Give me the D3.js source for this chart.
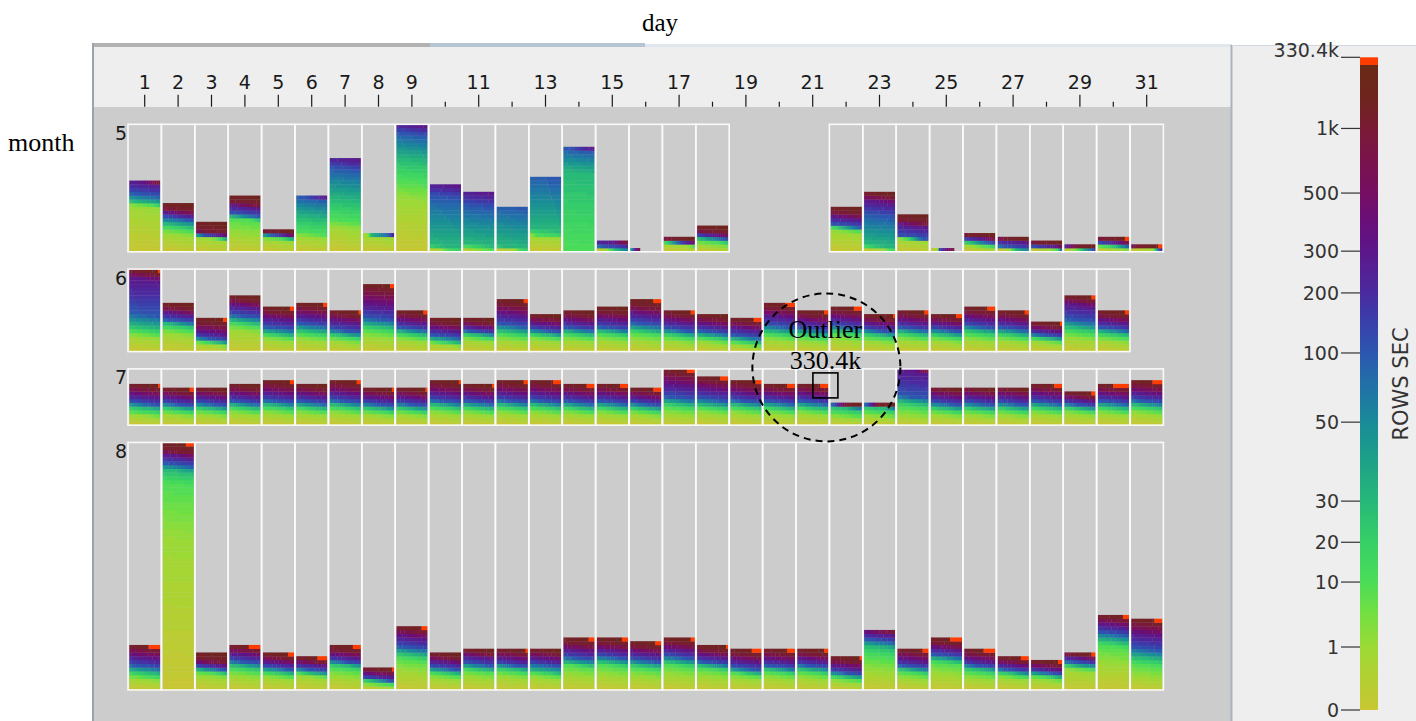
<!DOCTYPE html>
<html>
<head>
<meta charset="utf-8">
<script src="https://cdn.jsdelivr.net/npm/d3@7"></script>
<style>
  body { margin: 0; background: #fff; }
  svg { display: block; }
</style>
</head>
<body>
<div id="chart"></div>
<script>
// ---- data ----
const months = [5, 6, 7, 8];
const days = [1,2,3,4,5,6,7,8,9,10,11,12,13,14,15,16,17,18,19,20,21,22,23,24,25,26,27,28,29,30,31];
const labelledDays = [1,2,3,4,5,6,7,8,9,11,13,15,17,19,21,23,25,27,29,31];

// records per day (in rows of pixels), null = no data
const mayCount = [19,13,8,15,6,15,25,5,34,18,16,12,20,28,3,0.3,4,7,null,null,null,12,16,10,0.75,5,4,3,2,4,2];
const junCount = [22,13,9,15,12,13,11,18,11,9,9,14,10,11,12,14,11,10,9,13,11,12,10,11,10,12,11,8,15,11,null];
const julCount = [11,10,10,11,12,11,12,10,10,12,11,12,12,11,11,10,15,13,12,11,11,6,6,15,10,10,10,11,9,11,12];
const augCount = [12,66,10,12,10,9,12,6,17,10,11,11,11,14,14,13,14,12,11,11,11,9,16,11,14,11,9,8,10,20,19];

// share of a day's records with ROWS SEC at or below each limit
const cdfLimits = [1, 10, 30, 100, 300, 1000];
const peakRate = 150000;
const mayCdf = [
  [0.62,0.67,0.69,0.8,0.97,1],[0.34,0.45,0.55,0.68,0.78,0.86],[0.43,0.47,0.49,0.53,0.6,0.66],
  [0.3,0.58,0.6,0.66,0.8,0.86],[0.48,0.6,0.65,0.72,0.8,0.85],[0.25,0.33,0.6,0.95,1,1],
  [0.25,0.33,0.55,0.88,1,1],[0.83,0.84,0.85,0.97,1,1],[0.4,0.55,0.72,0.92,1,1],
  [0.02,0.03,0.08,0.8,1,1],[0.02,0.06,0.12,0.75,1,1],[0.05,0.06,0.1,1,1,1],
  [0.2,0.21,0.3,1,1,1],[0,0,0.75,0.97,1,1],[0.1,0.15,0.2,0.4,0.85,1],
  [0,0,0,0.3,0.6,1],[0.45,0.5,0.55,0.62,0.72,0.78],[0.2,0.38,0.45,0.55,0.65,0.75],
  null,null,null,
  [0.42,0.5,0.53,0.58,0.75,0.86],[0.04,0.05,0.1,0.6,0.83,0.93],[0.3,0.33,0.35,0.38,0.7,0.8],
  [0.3,0.32,0.33,0.35,0.6,1],[0.25,0.35,0.45,0.55,0.72,0.8],[0.1,0.12,0.15,0.3,0.72,0.8],
  [0.2,0.28,0.3,0.33,0.6,0.7],[0.15,0.22,0.3,0.45,0.55,0.7],[0.2,0.3,0.4,0.5,0.65,0.78],
  [0.35,0.38,0.4,0.45,0.5,0.55]
];
const junCdf = [
  [0.17,0.23,0.3,0.45,0.88,0.95],[0.34,0.45,0.55,0.63,0.78,0.88],[0.2,0.25,0.3,0.38,0.55,0.8],
  [0.36,0.46,0.53,0.63,0.8,0.9],[0.24,0.33,0.4,0.52,0.72,0.86],[0.23,0.33,0.42,0.55,0.72,0.88],
  [0.22,0.32,0.4,0.5,0.72,0.87],[0.2,0.3,0.38,0.48,0.68,0.9],[0.26,0.36,0.45,0.55,0.72,0.87],
  [0.2,0.25,0.32,0.45,0.65,0.83],[0.32,0.4,0.5,0.58,0.72,0.85],[0.2,0.3,0.38,0.5,0.7,0.88],
  [0.28,0.38,0.46,0.56,0.72,0.88],[0.25,0.36,0.45,0.55,0.72,0.87],[0.23,0.35,0.43,0.52,0.7,0.85],
  [0.2,0.33,0.4,0.52,0.7,0.85],[0.22,0.33,0.42,0.52,0.72,0.87],[0.22,0.32,0.4,0.52,0.7,0.87],
  [0.15,0.25,0.33,0.45,0.68,0.85],[0.22,0.32,0.4,0.52,0.72,0.87],[0.22,0.33,0.42,0.54,0.72,0.87],
  [0.25,0.36,0.45,0.55,0.72,0.87],[0.24,0.35,0.45,0.55,0.72,0.86],[0.25,0.36,0.45,0.55,0.72,0.88],
  [0.25,0.36,0.45,0.57,0.72,0.87],[0.24,0.35,0.45,0.55,0.72,0.87],[0.24,0.34,0.43,0.55,0.72,0.87],
  [0.28,0.38,0.45,0.55,0.7,0.86],[0.22,0.32,0.42,0.55,0.82,0.92],[0.24,0.35,0.45,0.55,0.72,0.86],
  null
];
const julCdf = [
  [0.22,0.3,0.42,0.52,0.7,0.88],[0.25,0.35,0.45,0.55,0.72,0.88],[0.25,0.36,0.45,0.56,0.74,0.9],
  [0.26,0.36,0.45,0.55,0.72,0.88],[0.24,0.34,0.43,0.53,0.7,0.87],[0.25,0.36,0.44,0.55,0.72,0.88],
  [0.24,0.34,0.43,0.53,0.7,0.87],[0.25,0.35,0.44,0.55,0.72,0.88],[0.25,0.35,0.44,0.55,0.72,0.88],
  [0.24,0.34,0.43,0.53,0.7,0.87],[0.25,0.35,0.44,0.55,0.72,0.88],[0.24,0.34,0.43,0.53,0.7,0.87],
  [0.24,0.34,0.43,0.53,0.7,0.87],[0.25,0.35,0.44,0.55,0.72,0.88],[0.25,0.35,0.44,0.55,0.72,0.88],
  [0.25,0.36,0.45,0.56,0.72,0.88],[0.18,0.3,0.38,0.48,0.7,0.9],[0.22,0.33,0.4,0.52,0.72,0.9],
  [0.24,0.34,0.43,0.53,0.7,0.87],[0.25,0.35,0.44,0.55,0.72,0.88],[0.25,0.35,0.44,0.55,0.72,0.88],
  [0.3,0.5,0.75,0.85,0.88,0.92],[0.35,0.55,0.78,0.85,0.88,0.9],[0.15,0.3,0.4,0.5,0.97,1],
  [0.24,0.36,0.45,0.57,0.75,0.92],[0.24,0.36,0.45,0.57,0.75,0.92],[0.24,0.36,0.45,0.57,0.75,0.92],
  [0.25,0.35,0.44,0.55,0.72,0.88],[0.3,0.42,0.5,0.6,0.75,0.87],[0.25,0.35,0.44,0.55,0.72,0.87],
  [0.24,0.34,0.43,0.53,0.7,0.87]
];
const augCdf = [
  [0.22,0.3,0.4,0.52,0.72,0.9],[0.6,0.83,0.885,0.91,0.945,0.962],[0.34,0.45,0.5,0.58,0.68,0.78],
  [0.28,0.42,0.52,0.62,0.78,0.9],[0.3,0.4,0.48,0.58,0.72,0.86],[0.38,0.45,0.5,0.6,0.75,0.86],
  [0.28,0.45,0.55,0.62,0.74,0.86],[0.15,0.3,0.38,0.47,0.65,0.85],[0.3,0.48,0.56,0.66,0.82,0.93],
  [0.28,0.4,0.48,0.57,0.75,0.87],[0.3,0.45,0.52,0.62,0.8,0.9],[0.3,0.42,0.52,0.6,0.75,0.9],
  [0.27,0.38,0.45,0.6,0.75,0.9],[0.27,0.45,0.5,0.6,0.75,0.87],[0.27,0.45,0.52,0.62,0.75,0.87],
  [0.26,0.42,0.5,0.6,0.75,0.87],[0.27,0.45,0.52,0.62,0.76,0.88],[0.28,0.45,0.52,0.6,0.75,0.87],
  [0.26,0.38,0.43,0.52,0.7,0.85],[0.27,0.4,0.48,0.56,0.72,0.87],[0.27,0.4,0.48,0.58,0.73,0.87],
  [0.22,0.33,0.4,0.5,0.68,0.85],[0.3,0.55,0.72,0.82,0.93,1],[0.26,0.4,0.48,0.56,0.72,0.9],
  [0.3,0.5,0.57,0.65,0.78,0.87],[0.26,0.4,0.5,0.58,0.72,0.87],[0.32,0.42,0.5,0.58,0.72,0.87],
  [0.3,0.42,0.48,0.58,0.7,0.86],[0.5,0.58,0.63,0.73,0.85,0.92],[0.35,0.58,0.65,0.75,0.86,0.94],
  [0.18,0.35,0.45,0.57,0.77,0.92]
];

// records hitting the maximum (330.4k) per day, in pixel cells
const mayTop = [0,0,0,0,0,0,0,0,0,0,0,0,0,0,0,0,0,0,0,0,0,0,0,0,0,0,0,0,0,2,2];
const junTop = [1,0,2,0,2,2,1,2,2,0,0,2,0,0,0,4,2,0,4,5,2,4,1,2,3,4,2,1,2,2,0];
const julTop = [1,2,0,0,2,0,2,1,1,1,1,2,4,4,4,4,4,4,3,4,4,0,0,0,0,0,0,4,2,8,5];
const augTop = [6,4,0,6,3,5,4,1,3,0,0,1,0,3,3,3,2,1,5,4,2,1,0,3,6,6,4,2,2,3,4];

// colour legend (ROWS SEC)
const legendValues = [0, 1, 10, 20, 30, 50, 100, 200, 300, 500, 1000, 330400];
const legendLabels = ["0","1","10","20","30","50","100","200","300","500","1k","330.4k"];
const legendStops  = [0, 0.0965, 0.196, 0.257, 0.320, 0.441, 0.547, 0.639, 0.703, 0.792, 0.891, 1];

const rampPos = [0,0.05,0.0965,0.15,0.196,0.257,0.32,0.4,0.441,0.5,0.547,0.6,0.639,0.703,0.75,0.792,0.85,0.891,0.93,0.988,0.989,1];
const rampHex = ["#c8c732","#b3d032","#9cda36","#72df42","#4bdd58","#37d066","#26b879","#1b9a8c","#1a8b98","#2170a8",
                 "#2c57b0","#3b3daa","#4a2b9f","#5c1789","#690e78","#760f63","#7a1448","#7a1b36","#702420","#692a15","#ff3d00","#ff3d00"];

// ---- setup ----
const width = 1416, height = 721;
const svg = d3.select("#chart").append("svg")
    .attr("width", width)
    .attr("height", height);

const legendScale = d3.scaleLinear().domain(legendValues).range(legendStops).clamp(true);
const color = d3.scaleLinear().domain(rampPos).range(rampHex).interpolate(d3.interpolateRgb);

const x = d3.scaleBand().domain(days).range([128, 128 + 31 * 33.4]);
const rowUnit = 3.75, rowGap = 17.3, CELLS = 16;

const counts = [mayCount, junCount, julCount, augCount];
const cdfs = [mayCdf, junCdf, julCdf, augCdf];
const tops = [mayTop, junTop, julTop, augTop];

let cursor = 124.3;
const rows = months.map((m, i) => {
  const maxRows = Math.ceil(d3.max(counts[i]));
  const y = d3.scaleLinear().domain([0, maxRows]).range([cursor + maxRows * rowUnit, cursor]);
  cursor += maxRows * rowUnit + rowGap;
  return {month: m, count: counts[i], cdf: cdfs[i], top: tops[i], maxRows, y};
});

// ---- panels ----
svg.append("rect").attr("x", 92).attr("y", 47).attr("width", 1140).attr("height", 674).attr("fill", "#cccccc");
svg.append("rect").attr("x", 92).attr("y", 47).attr("width", 1140).attr("height", 60).attr("fill", "#eeeeee");
svg.append("rect").attr("x", 1232).attr("y", 45).attr("width", 184).attr("height", 676).attr("fill", "#eeeeee");
svg.append("rect").attr("x", 92).attr("y", 43).attr("width", 338).attr("height", 4).attr("fill", "#b2b2b2");
svg.append("rect").attr("x", 430).attr("y", 43).attr("width", 215).attr("height", 4).attr("fill", "#b6c5d4");
svg.append("rect").attr("x", 645).attr("y", 44).attr("width", 587).attr("height", 3).attr("fill", "#dfe6ec");
svg.append("line").attr("x1", 93).attr("x2", 93).attr("y1", 43).attr("y2", 721).attr("stroke", "#9aa3ad").attr("stroke-width", 2);
svg.append("line").attr("x1", 1231.5).attr("x2", 1231.5).attr("y1", 45).attr("y2", 721).attr("stroke", "#a9b3bd").attr("stroke-width", 2);
svg.append("line").attr("x1", 1232).attr("x2", 1416).attr("y1", 45.5).attr("y2", 45.5).attr("stroke", "#cfd8e0");

// ---- pixel bars ----
function profile(cdf) {
  const pts = [[0, legendScale(0)]];
  for (let i = 0; i < cdfLimits.length; i++) {
    pts.push([cdf[i], legendScale(cdfLimits[i])]);
    if (cdf[i] >= 1) return pts;
  }
  pts.push([1, legendScale(peakRate)]);
  return pts;
}
function tAt(pts, f) {
  for (let j = 1; j < pts.length; j++) {
    if (f <= pts[j][0]) {
      const [f0, t0] = pts[j - 1], [f1, t1] = pts[j];
      return f1 > f0 ? t0 + (t1 - t0) * (f - f0) / (f1 - f0) : t1;
    }
  }
  return pts[pts.length - 1][1];
}

const runs = [];
rows.forEach(row => {
  row.count.forEach((c, di) => {
    if (c == null) return;
    const n = Math.round(c * CELLS);
    const pts = profile(row.cdf[di]);
    const x0 = x(days[di]) + 1.3;
    const cw = (x.bandwidth() - 2.6) / CELLS;
    for (let r = 0; r * CELLS < n; r++) {
      let run = null;
      for (let k = 0; k < CELLS; k++) {
        const i = r * CELLS + k;
        if (i >= n) break;
        const fill = i >= n - row.top[di] ? color(1) : color(Math.round(tAt(pts, (i + 0.5) / n) * 64) / 64);
        if (run && run.fill === fill) run.w += cw;
        else { run = {x: x0 + k * cw, w: cw, r, fill, y: row.y}; runs.push(run); }
      }
    }
  });
});

svg.append("g").selectAll("rect")
  .data(runs)
  .join("rect")
    .attr("x", d => d.x)
    .attr("y", d => d.y(d.r + 1))
    .attr("width", d => d.w + 0.3)
    .attr("height", d => d.y(d.r) - d.y(d.r + 1) + 0.3)
    .attr("fill", d => d.fill);

// ---- cell frames and month labels ----
rows.forEach(row => {
  const g = svg.append("g");
  g.selectAll("rect")
    .data(days.filter((d, i) => row.count[i] != null))
    .join("rect")
      .attr("x", d => x(d))
      .attr("y", row.y(row.maxRows))
      .attr("width", x.bandwidth())
      .attr("height", row.y(0) - row.y(row.maxRows))
      .attr("fill", "none")
      .attr("stroke", "#fafafa")
      .attr("stroke-width", 1.6);
  g.append("text")
    .attr("x", 127)
    .attr("y", row.y(row.maxRows) + 15.5)
    .attr("text-anchor", "end")
    .attr("font-family", "DejaVu Sans")
    .attr("font-size", 19)
    .attr("fill", "#1a1a1a")
    .text(row.month);
});

// ---- day axis ----
const axis = d3.axisTop(x)
  .tickSize(12)
  .tickPadding(6)
  .tickFormat(d => labelledDays.includes(d) ? d : "");
const gx = svg.append("g")
  .attr("transform", "translate(0,106.7)")
  .call(axis)
  .attr("font-family", "DejaVu Sans")
  .attr("font-size", 19);
gx.select(".domain").remove();
gx.selectAll(".tick line")
  .attr("y2", d => labelledDays.includes(d) ? -12 : -5)
  .attr("stroke", "#1a1a1a")
  .attr("stroke-width", 1.2);
gx.selectAll(".tick text").attr("fill", "#1a1a1a");

// ---- legend ----
const legendY = d3.scaleLinear().domain([0, 1]).range([710, 57.3]);
const grad = svg.append("defs").append("linearGradient")
  .attr("id", "ramp").attr("x1", 0).attr("y1", 1).attr("x2", 0).attr("y2", 0);
grad.selectAll("stop").data(rampPos).join("stop")
  .attr("offset", d => d)
  .attr("stop-color", (d, i) => rampHex[i]);
svg.append("rect")
  .attr("x", 1360).attr("y", legendY(1))
  .attr("width", 18).attr("height", legendY(0) - legendY(1))
  .attr("fill", "url(#ramp)");

const lg = svg.append("g").selectAll("g")
  .data(legendValues)
  .join("g")
    .attr("transform", d => `translate(0,${legendY(legendScale(d))})`);
lg.append("line").attr("x1", 1341).attr("x2", 1360).attr("stroke", "#333").attr("stroke-width", 1.2);
lg.append("text")
  .attr("x", 1339)
  .attr("dy", (d, i) => i === legendValues.length - 1 ? "0em" : "0.35em")
  .attr("text-anchor", "end")
  .attr("font-family", "DejaVu Sans")
  .attr("font-size", 19)
  .attr("fill", "#333")
  .text((d, i) => legendLabels[i]);

svg.append("text")
  .attr("transform", "translate(1408,384) rotate(-90)")
  .attr("text-anchor", "middle")
  .attr("font-family", "DejaVu Sans")
  .attr("font-size", 21)
  .attr("fill", "#333")
  .text("ROWS SEC");

// ---- titles ----
svg.append("text").attr("x", 660).attr("y", 31).attr("text-anchor", "middle")
  .attr("font-family", "Liberation Serif").attr("font-size", 25).text("day");
svg.append("text").attr("x", 8).attr("y", 151)
  .attr("font-family", "Liberation Serif").attr("font-size", 26).text("month");

// ---- outlier annotation (July 21) ----
const jul = rows[2];
const bx = x(21) + x.bandwidth() - 4;
const by = jul.y(julCount[20]) + 1.5;
svg.append("rect").attr("x", bx - 12.5).attr("y", by - 12.5).attr("width", 25).attr("height", 25)
  .attr("fill", "none").attr("stroke", "#000").attr("stroke-width", 1.6);
svg.append("circle").attr("cx", bx + 1).attr("cy", by - 18).attr("r", 74)
  .attr("fill", "none").attr("stroke", "#000").attr("stroke-width", 2).attr("stroke-dasharray", "7,5");
svg.append("text").attr("x", bx).attr("y", by - 47).attr("text-anchor", "middle")
  .attr("font-family", "Liberation Serif").attr("font-size", 26).text("Outlier");
svg.append("text").attr("x", bx).attr("y", by - 16).attr("text-anchor", "middle")
  .attr("font-family", "Liberation Serif").attr("font-size", 26).text("330.4k");
</script>
</body>
</html>
